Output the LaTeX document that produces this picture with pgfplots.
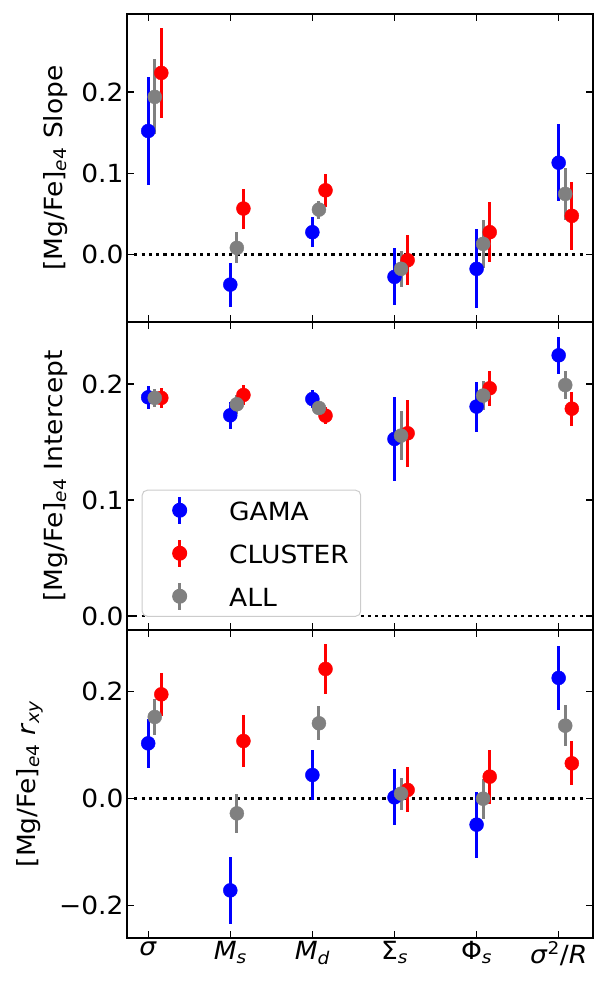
\documentclass[border=0pt]{standalone}
\usepackage{pgfplots}
\pgfplotsset{compat=1.18}
\usepackage{fontspec}
\setmainfont{DejaVu Sans}[FakeStretch=1.06]

\definecolor{gamacol}{rgb}{0,0,1}
\definecolor{clustcol}{rgb}{1,0,0}
\definecolor{allcol}{rgb}{0.5,0.5,0.5}

\newcommand{\bigfont}{\fontsize{25}{30}\selectfont}

\pgfplotsset{
  panel/.style={
    scale only axis, width=466pt, height=308pt, anchor=south west,
    xmin=-0.258, xmax=5.418,
    xtick={0,1,2,3,4,5},
    tick align=inside,
    major tick length=7pt,
    every tick/.style={black, line width=1.2pt},
    axis line style={line width=1.2pt},
    font=\bigfont,
    tick label style={font=\bigfont},
    ylabel style={font=\bigfont, anchor=south, inner sep=0pt},
  },
  errser/.style={
    only marks, mark=*, mark size=7pt, color=#1,
    mark options={fill=#1, draw=none},
    legend image code/.code={
      \path (0pt,0pt) (74pt,0pt);
      \draw[line width=3pt] (25pt,-11.5pt) -- (25pt,15.5pt);
      \fill (25pt,2pt) circle (7pt);
    },
    error bars/.cd, y dir=both, y explicit, error mark=none,
    error bar style={line width=3pt, color=#1},
  },
  zeroline/.style={black, line width=2.5pt, dash pattern=on 3.2pt off 4.1pt, forget plot},
}

\begin{document}
\begin{tikzpicture}
\path[use as bounding box] (0pt,0pt) rectangle (608pt,991pt);

% ---------------- slope ----------------
\begin{axis}[panel, at={(127pt,669pt)},
  ymin=-0.083, ymax=0.296,
  ytick={0,0.1,0.2}, yticklabels={0.0,0.1,0.2},
  xticklabels={},
  ylabel style={at={(axis description cs:-0.1266,0.5)}},
  ylabel={[Mg/Fe]\textsubscript{\textit{e}4} Slope}]
\addplot[zeroline] coordinates {(-0.17,0) (5.34,0)};
\addplot[errser=gamacol] coordinates {
  (0,0.152) +- (0,0.066)
  (1,-0.037) +- (0,0.027)
  (2,0.0275) +- (0,0.0187)
  (3,-0.0275) +- (0,0.035)
  (4,-0.0176) +- (0,0.0485)
  (5,0.113) +- (0,0.0475)
};
\addplot[errser=clustcol] coordinates {
  (0.16,0.2235) +- (0,0.055)
  (1.16,0.0566) +- (0,0.0246)
  (2.16,0.079) +- (0,0.0205)
  (3.16,-0.007) +- (0,0.031)
  (4.16,0.0275) +- (0,0.037)
  (5.16,0.0476) +- (0,0.0415)
};
\addplot[errser=allcol] coordinates {
  (0.08,0.194) +- (0,0.046)
  (1.08,0.0082) +- (0,0.019)
  (2.08,0.0553) +- (0,0.011)
  (3.08,-0.0176) +- (0,0.0225)
  (4.08,0.0131) +- (0,0.030)
  (5.08,0.0746) +- (0,0.0318)
};
\end{axis}

% ---------------- intercept ----------------
\begin{axis}[panel, at={(127pt,361pt)},
  ymin=-0.012, ymax=0.2534,
  ytick={0,0.1,0.2}, yticklabels={0.0,0.1,0.2},
  xticklabels={},
  ylabel style={at={(axis description cs:-0.1266,0.5)}},
  ylabel={[Mg/Fe]\textsubscript{\textit{e}4} Intercept},
  legend cell align=left,
  legend style={at={(0.0315,0.043)}, anchor=south west,
    draw=black!20, line width=1pt, rounded corners=5pt,
    fill=white,
    inner xsep=12pt, inner ysep=5pt, row sep=13pt,
    font=\bigfont, nodes={inner sep=0pt}}]
\addplot[zeroline] coordinates {(-0.17,0) (5.34,0)};
\addplot[errser=gamacol] coordinates {
  (0,0.1885) +- (0,0.010)
  (1,0.173) +- (0,0.0117)
  (2,0.187) +- (0,0.008)
  (3,0.1526) +- (0,0.036)
  (4,0.1805) +- (0,0.0215)
  (5,0.2247) +- (0,0.016)
};
\addlegendentry{GAMA}
\addplot[errser=clustcol] coordinates {
  (0.16,0.188) +- (0,0.0085)
  (1.16,0.1905) +- (0,0.009)
  (2.16,0.1727) +- (0,0.0075)
  (3.16,0.1575) +- (0,0.029)
  (4.16,0.1963) +- (0,0.015)
  (5.16,0.1787) +- (0,0.0147)
};
\addlegendentry{CLUSTER}
\addplot[errser=allcol] coordinates {
  (0.08,0.188) +- (0,0.008)
  (1.08,0.1825) +- (0,0.008)
  (2.08,0.1793) +- (0,0.006)
  (3.08,0.1555) +- (0,0.021)
  (4.08,0.190) +- (0,0.0125)
  (5.08,0.1991) +- (0,0.0117)
};
\addlegendentry{ALL}
\end{axis}

% ---------------- correlation ----------------
\begin{axis}[panel, at={(127pt,53pt)},
  ymin=-0.2604, ymax=0.314,
  ytick={-0.2,0,0.2}, yticklabels={−0.2,0.0,0.2},
  xticklabels={\textit{σ}, \textit{M}\textsubscript{\textit{s}}, \textit{M}\textsubscript{\textit{d}}, Σ\textsubscript{\textit{s}}, Φ\textsubscript{\textit{s}}, \textit{σ}\textsuperscript{2}/\textit{R}},
  ylabel style={at={(axis description cs:-0.180,0.5)}},
  ylabel={[Mg/Fe]\textsubscript{\textit{e}4} \textit{r}\textsubscript{\textit{xy}}}]
\addplot[zeroline] coordinates {(-0.17,0) (5.34,0)};
\addplot[errser=gamacol] coordinates {
  (0,0.1026) +- (0,0.0457)
  (1,-0.1716) +- (0,0.063)
  (2,0.0436) +- (0,0.047)
  (3,0.0019) +- (0,0.052)
  (4,-0.049) +- (0,0.0615)
  (5,0.2246) +- (0,0.059)
};
\addplot[errser=clustcol] coordinates {
  (0.16,0.194) +- (0,0.040)
  (1.16,0.107) +- (0,0.048)
  (2.16,0.2414) +- (0,0.046)
  (3.16,0.0157) +- (0,0.042)
  (4.16,0.0405) +- (0,0.0505)
  (5.16,0.0653) +- (0,0.0413)
};
\addplot[errser=allcol] coordinates {
  (0.08,0.1518) +- (0,0.0327)
  (1.08,-0.028) +- (0,0.0367)
  (2.08,0.140) +- (0,0.0315)
  (3.08,0.0088) +- (0,0.030)
  (4.08,-0.0006) +- (0,0.037)
  (5.08,0.1356) +- (0,0.0385)
};
\end{axis}
\end{tikzpicture}
\end{document}
